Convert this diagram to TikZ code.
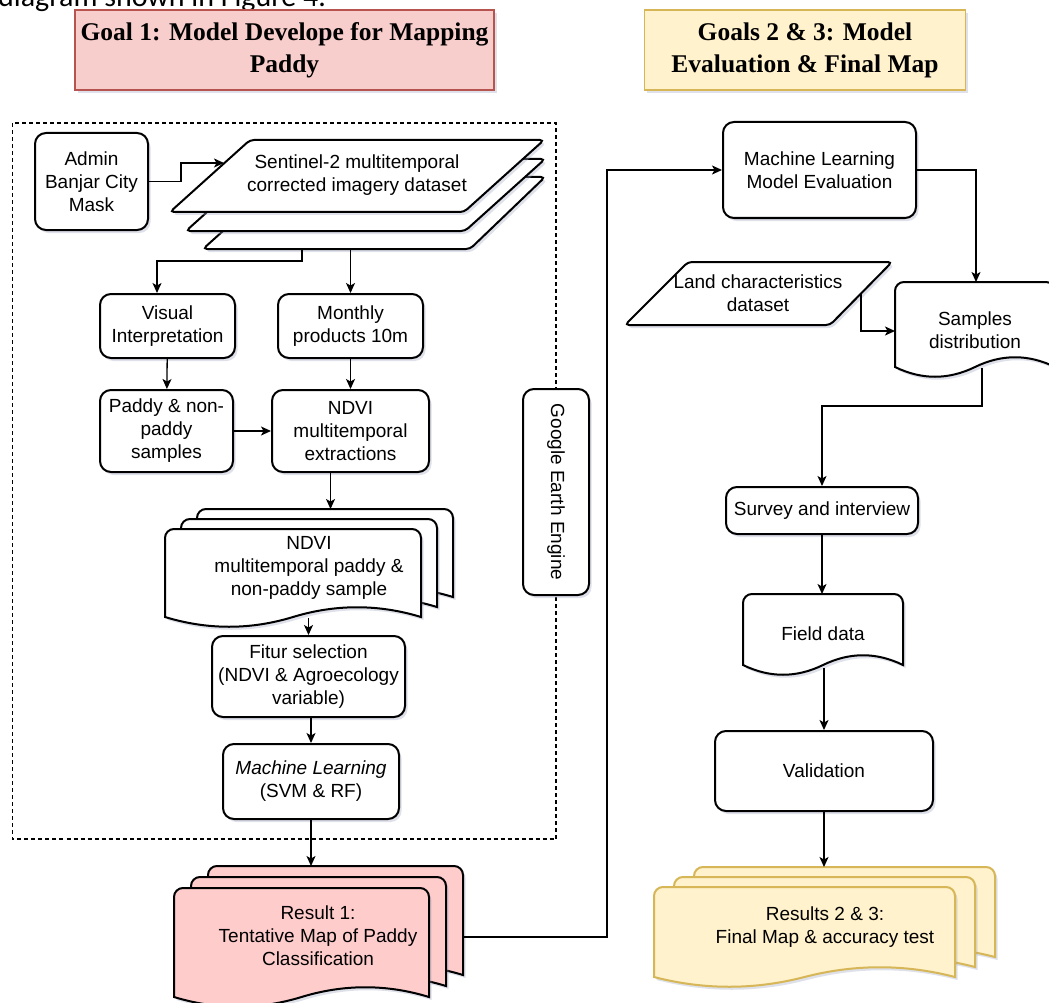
\documentclass[tikz,border=0pt]{standalone}
\usepackage{fontspec}
\setmainfont{Liberation Sans}
\newfontfamily\titlefont{Liberation Serif}
\newfontfamily\pagefont{Carlito}
\usetikzlibrary{arrows.meta,shadows}
\definecolor{goalred}{HTML}{F8CECC}
\definecolor{goalredline}{HTML}{B85450}
\definecolor{goalyellow}{HTML}{FFF2CC}
\definecolor{goalyellowline}{HTML}{D6B656}
\definecolor{resultred}{HTML}{FFCCCC}
\definecolor{shadowblue}{HTML}{A3A9C4}

\newcommand{\wavedoc}[5]{%
  \draw[#5] (#1,#2+#4) -- (#1,#2+9) .. controls (#1,#2+4) and (#1+4,#2) .. (#1+9,#2)
    -- (#1+#3-9,#2) .. controls (#1+#3-4,#2) and (#1+#3,#2+4) .. (#1+#3,#2+9)
    -- (#1+#3,#2+#4)
    .. controls (#1+5*#3/6,#2+#4-13) and (#1+4*#3/6,#2+#4-13) .. (#1+#3/2,#2+#4)
    .. controls (#1+2*#3/6,#2+#4+13) and (#1+#3/6,#2+#4+13) .. (#1,#2+#4) -- cycle;}

\begin{document}
\begin{tikzpicture}[x=1pt, y=-1pt, every node/.style={font=\fontsize{19}{23}\selectfont, align=center},
    softshadow/.style={drop shadow={shadow xshift=2.5pt, shadow yshift=-3pt, fill=shadowblue, opacity=0.35}},
    box/.style={draw, line width=2pt, rounded corners=11pt, fill=white, inner sep=2pt, softshadow},
    goal/.style={draw, line width=1.3pt, inner sep=2pt, softshadow, font=\titlefont\bfseries\fontsize{25.5}{32}\selectfont},
    datashape/.style={draw, line width=2pt, fill=white, rounded corners=4pt, softshadow},
    docshape/.style={draw, line width=2pt, fill=white, softshadow},
    link/.style={line width=1.3pt, -{Stealth[length=10pt, width=9pt, inset=2.5pt]}}]
    \useasboundingbox (0,0) rectangle (1049,1003);
    \fill[white] (0,0) rectangle (1049,1003);
    \node[font=\pagefont\fontsize{30}{36}\selectfont, anchor=base west, inner sep=0pt] (pageline) at (-2,6.5) {diagram shown in Figure 4.};

    \node[goal, fill=goalred, draw=goalredline, minimum width=419, minimum height=80] (goal1) at (284.5,50) {Goal 1: Model Develope for Mapping\\Paddy};
    \node[goal, fill=goalyellow, draw=goalyellowline, minimum width=321, minimum height=80] (goal23) at (805,50) {Goals 2 \& 3: Model\\Evaluation \& Final Map};

    \draw[line width=1.2pt, dash pattern=on 4pt off 3pt] (12.5,123) rectangle (556,839);

    \node[box, minimum width=113, minimum height=97] (admin) at (91.5,181.5) {Admin\\Banjar City\\Mask};
    \draw[datashape] (283,177) -- (545,177) -- (470,249) -- (203,249) -- cycle;
    \draw[datashape] (266,159) -- (545,159) -- (465,231) -- (186,231) -- cycle;
    \draw[datashape] (250,140) -- (544,140) -- (464,212) -- (170,212) -- cycle;
    \node (sentinel) at (357,175.5) {Sentinel-2 multitemporal\\corrected imagery dataset};
    \coordinate (sentinelin) at (224,163);
    \coordinate (stackleft) at (302,249);
    \coordinate (stackright) at (350.5,249);

    \node[box, minimum width=135, minimum height=64] (visual) at (167.5,326) {Visual\\Interpretation};
    \node[box, minimum width=145, minimum height=64] (monthly) at (350.5,326) {Monthly\\products 10m};
    \node[box, minimum width=133, minimum height=82] (paddy) at (166.5,431) {Paddy \& non-\\paddy\\samples};
    \node[box, minimum width=157, minimum height=82] (ndviext) at (350.5,431) {NDVI\\multitemporal\\extractions};

    \wavedoc{197}{509}{256}{88}{docshape}
    \wavedoc{181}{519}{256}{88}{docshape}
    \wavedoc{165}{529}{256}{88}{docshape}
    \node (ndvis) at (309,567.5) {NDVI\\multitemporal paddy \&\\non-paddy sample};
    \coordinate (ndvistop) at (330.5,509);
    \coordinate (ndvisout) at (308.5,618);

    \node[box, minimum width=66, minimum height=206] (gee) at (556,492) {\rotatebox{-90}{Google Earth Engine}};

    \node[box, minimum width=193, minimum height=81] (fitur) at (308.5,676.5) {Fitur selection\\(NDVI \& Agroecology\\variable)};
    \node[box, minimum width=176, minimum height=75] (ml) at (311,781.5) {\textit{Machine Learning}\\(SVM \& RF)};

    \wavedoc{208}{866}{255}{109}{docshape, fill=resultred}
    \wavedoc{191}{877}{255}{109}{docshape, fill=resultred}
    \wavedoc{174}{888}{255}{109}{docshape, fill=resultred}
    \node (res1) at (318,936) {Result 1:\\Tentative Map of Paddy\\Classification};
    \coordinate (res1top) at (318,866);
    \coordinate (res1out) at (463,937);

    \node[box, minimum width=193, minimum height=96] (mleval) at (819.5,170) {Machine Learning\\Model Evaluation};
    \draw[datashape] (688,262) -- (892,262) -- (830,325) -- (625,325) -- cycle;
    \node (land) at (758,293.5) {Land characteristics\\dataset};
    \coordinate (landout) at (861,293.5);

    \wavedoc{895}{282}{160}{85}{docshape}
    \node (samples) at (975,330.5) {Samples\\distribution};
    \coordinate (samplestop) at (976,282);
    \coordinate (samplesin) at (895,331);
    \coordinate (samplesout) at (982,368);

    \node[box, minimum width=192, minimum height=47] (survey) at (822,510.5) {Survey and interview};
    \wavedoc{743}{594}{160}{71}{docshape}
    \node (field) at (823,634) {Field data};
    \coordinate (fieldtop) at (822,594);
    \coordinate (fieldout) at (824,668);
    \node[box, minimum width=218, minimum height=80] (validation) at (824,771) {Validation};

    \wavedoc{694}{867}{301}{90}{docshape, fill=goalyellow, draw=goalyellowline}
    \wavedoc{674}{877}{301}{90}{docshape, fill=goalyellow, draw=goalyellowline}
    \wavedoc{654}{887}{301}{90}{docshape, fill=goalyellow, draw=goalyellowline}
    \node (res23) at (825,927) {Results 2 \& 3:\\Final Map \& accuracy test};
    \coordinate (res23top) at (824,867);

    \draw[link] (admin.east) -- ++(32,0) |- (sentinelin);
    \draw[link] (stackleft) -- ++(0,12) -| ([xshift=-10.5pt]visual.north);
    \draw[link] (stackright) -- (monthly.north);
    \draw[link] (visual) -- (paddy);
    \draw[link] (monthly) -- (ndviext);
    \draw[link] (paddy) -- (ndviext);
    \draw[link] (ndviext.south -| ndvistop) -- (ndvistop);
    \draw[link] (ndvisout) -- (fitur.north);
    \draw[link] (fitur.south -| ml.north) -- (ml.north);
    \draw[link] (ml.south) -- (ml.south |- res1top);
    \draw[link] (res1out) -- ++(144,0) |- (mleval.west);
    \draw[link] (mleval.east) -| (samplestop);
    \draw[link] (landout) |- (samplesin);
    \draw[link] (samplesout) -- ++(0,38) -| (survey.north);
    \draw[link] (survey.south) -- (fieldtop);
    \draw[link] (fieldout) -- (validation.north);
    \draw[link] (validation.south) -- (res23top);
\end{tikzpicture}
\end{document}
